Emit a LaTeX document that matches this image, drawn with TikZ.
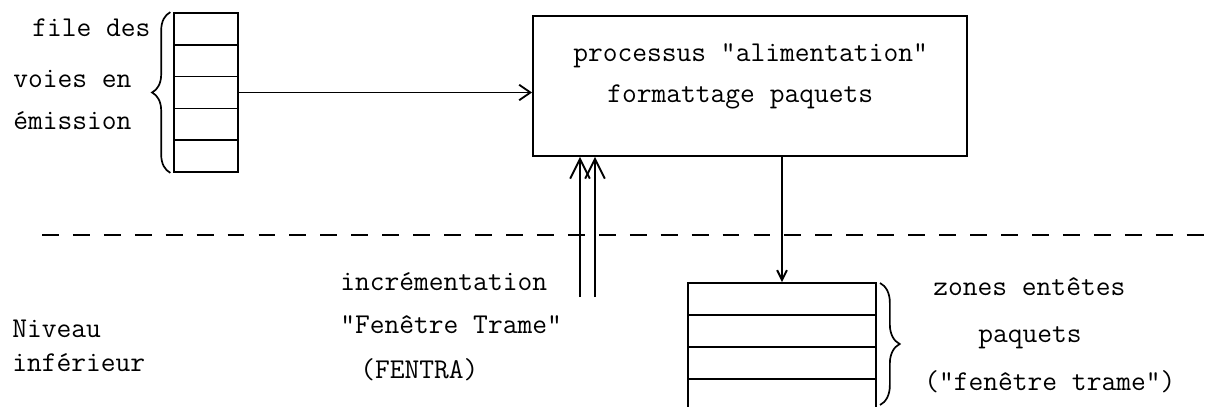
\documentclass[tikz,border=0pt]{standalone}
\usepackage{fontspec}
\usetikzlibrary{arrows.meta, calc, positioning, decorations.pathreplacing}
\tikzstyle{voie} = [rectangle, draw=black, line width=1.2pt, minimum width=1.6cm, minimum height=0.795cm, inner sep=0pt]
\tikzstyle{zone} = [rectangle, draw=black, line width=1.2pt, minimum width=4.7cm, minimum height=0.8cm, inner sep=0pt]
\tikzstyle{process} = [rectangle, draw=black, line width=1.3pt, minimum width=10.85cm, minimum height=3.5cm, inner sep=0pt]
\tikzstyle{txt} = [inner sep=0pt, anchor=base west, font=\ttfamily\fontsize{20.4pt}{24pt}\selectfont\addfontfeature{FakeBold=1.2}]
\tikzstyle{arrow} = [line width=1.3pt, -{Straight Barb[length=8pt, width=11pt]}]
\tikzstyle{bigarrow} = [line width=1.3pt, -{Straight Barb[length=14pt, width=14pt]}]
\tikzstyle{smallarrow} = [line width=1.4pt, -{Straight Barb[length=7pt, width=7pt]}]
\tikzstyle{levelline} = [line width=1.4pt, dash pattern=on 12pt off 10pt]
\tikzstyle{bracket} = [line width=1.2pt, decorate, decoration={brace, amplitude=13pt}]
\begin{document}
\begin{tikzpicture}[x=0.025cm, y=-0.025cm]
	\useasboundingbox (0,0) rectangle (1206,407);

	% file des voies en emission
	\foreach \i in {0,...,4}
		\node (fv\i) [voie] at (206, 28.9+31.8*\i) {};
	\node (fileTxt) [txt] at (32,37) {file des};
	\node (voiesTxt) [txt] at (13,88) {voies en};
	\node (emisTxt) [txt] at (13,130) {émission};
	\draw [bracket] ([xshift=-2pt]fv4.south west) -- ([xshift=-2pt]fv0.north west);

	% processus alimentation
	\node (Proc) [process] at (750,86) {};
	\node (procTxt1) [txt] at (573,62) {processus "alimentation"};
	\node (procTxt2) [txt] at (607,103) {formattage paquets};

	% zones entetes paquets
	\foreach \i in {0,...,3}
		\node (zc\i) [zone] at (782, 299+32*\i) {};
	\coordinate (zbTop) at (880,283);
	\coordinate (zbBot) at (880,405);
	\draw [bracket, decoration={amplitude=14pt}] (zbTop) -- (zbBot);
	\node (zoneTxt1) [txt] at (933,295) {zones entêtes};
	\node (zoneTxt2) [txt] at (978,342) {paquets};
	\node (zoneTxt3) [txt] at (924,390) {("fenêtre trame")};

	% niveau inferieur
	\draw [levelline] (42,235) -- (1206,235);
	\node (nivTxt1) [txt] at (12,337) {Niveau};
	\node (nivTxt2) [txt] at (12,371) {inférieur};

	% incrementation fenetre trame
	\node (incTxt1) [txt] at (340,290) {incrémentation};
	\node (incTxt2) [txt] at (340,333) {"Fenêtre Trame"};
	\node (incTxt3) [txt] at (360,378) {(FENTRA)};
	\coordinate (incL) at (580,297);
	\coordinate (incR) at (595,297);

	\draw [arrow] (fv2.east) -- (fv2.east -| Proc.west);
	\draw [bigarrow] (incL) -- (incL |- Proc.south);
	\draw [bigarrow] (incR) -- (incR |- Proc.south);
	\draw [smallarrow] (zc0.north |- Proc.south) -- (zc0.north);
\end{tikzpicture}
\end{document}
